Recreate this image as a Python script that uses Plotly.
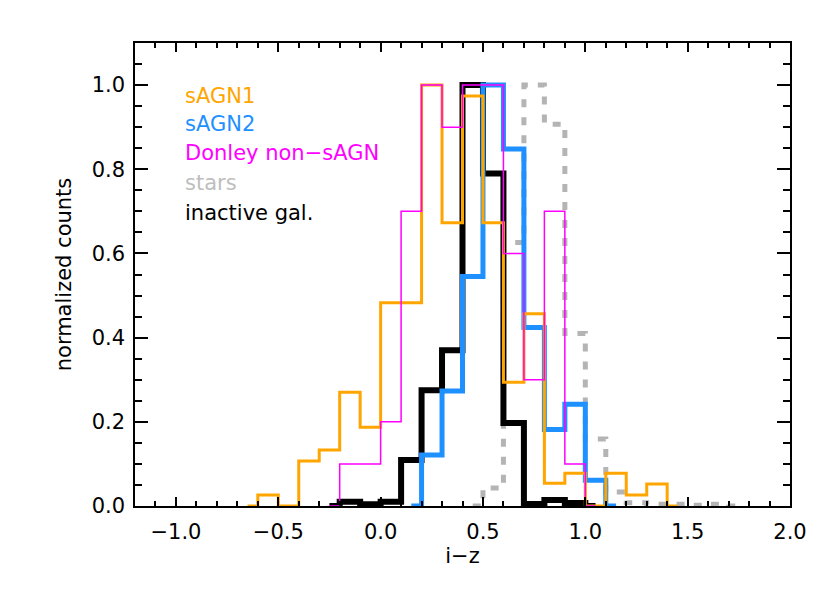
import plotly.graph_objects as go

# bin centres (width 0.1) and normalized counts
sagn1_x = [-0.65, -0.55, -0.45, -0.35, -0.25, -0.15, -0.05, 0.05, 0.15, 0.25, 0.35,
           0.45, 0.55, 0.65, 0.75, 0.85, 0.95, 1.05, 1.15, 1.25, 1.35, 1.45]
sagn1_y = [0, 0.026, 0, 0.107, 0.133, 0.27, 0.187, 0.483, 0.483, 1.0, 0.673,
           0.974, 0.673, 0.294, 0.457, 0.054, 0.078, 0, 0.078, 0.026, 0.052, 0]

sagn2_x = [0.15, 0.25, 0.35, 0.45, 0.55, 0.65, 0.75, 0.85, 0.95, 1.05, 1.15]
sagn2_y = [0, 0.121, 0.273, 0.545, 1.0, 0.848, 0.424, 0.182, 0.242, 0.061, 0]

donley_x = [-0.25, -0.15, -0.05, 0.05, 0.15, 0.25, 0.35, 0.45, 0.55, 0.65, 0.75,
            0.85, 0.95, 1.05]
donley_y = [0, 0.1, 0.1, 0.2, 0.7, 1.0, 0.9, 1.0, 1.0, 0.6, 0.3, 0.7, 0.1, 0]

stars_x = [0.45, 0.55, 0.65, 0.75, 0.85, 0.95, 1.05, 1.15, 1.25, 1.35, 1.45,
           1.55, 1.65, 1.75]
stars_y = [0, 0.043, 0.626, 1.0, 0.907, 0.41, 0.159, 0.033, 0.008, 0.004, 0.004,
           0.002, 0.004, 0]

inactive_x = [-0.25, -0.15, -0.05, 0.05, 0.15, 0.25, 0.35, 0.45, 0.55, 0.65, 0.75,
              0.85, 0.95, 1.05]
inactive_y = [0, 0.01, 0.004, 0.01, 0.109, 0.275, 0.37, 1.0, 0.79, 0.197, 0.005,
              0.014, 0.007, 0]

labels = ['sAGN1', 'sAGN2', 'Donley non\u2212sAGN', 'stars', 'inactive gal.']
label_colors = ['#FFA500', '#1E90FF', '#FF00FF', '#BEBEBE', '#000000']

FONT = 'DejaVu Sans'
FS = 21

fig = go.Figure()

# drawing order: stars, inactive, sAGN2, sAGN1, Donley
fig.add_trace(go.Scatter(x=stars_x, y=stars_y, mode='lines', line_shape='hvh',
                         line=dict(color='#B4B4B4', width=5, dash='8px,10px')))
fig.add_trace(go.Scatter(x=inactive_x, y=inactive_y, mode='lines', line_shape='hvh',
                         line=dict(color='black', width=6)))
fig.add_trace(go.Scatter(x=sagn2_x, y=sagn2_y, mode='lines', line_shape='hvh',
                         line=dict(color='#1E90FF', width=5)))
fig.add_trace(go.Scatter(x=sagn1_x, y=sagn1_y, mode='lines', line_shape='hvh',
                         line=dict(color='#FFA500', width=3)))
fig.add_trace(go.Scatter(x=donley_x, y=donley_y, mode='lines', line_shape='hvh',
                         line=dict(color='#FF00FF', width=1.5)))

# text legend in the upper left
legend_y = [0.974, 0.908, 0.839, 0.768, 0.697]
for txt, col, yy in zip(labels, label_colors, legend_y):
    fig.add_annotation(x=-0.965, y=yy, xref='x', yref='y', text=txt,
                       showarrow=False, xanchor='left', yanchor='middle',
                       font=dict(family=FONT, size=FS, color=col))

axis_common = dict(showline=True, linecolor='black', linewidth=1.5,
                   mirror='allticks', ticks='inside', tickcolor='black',
                   tickwidth=1.5, showgrid=False, zeroline=False,
                   tickfont=dict(family=FONT, size=FS, color='black'),
                   tickformat='.1f')

fig.update_xaxes(range=[-1.2, 2.0], dtick=0.5, tick0=0, ticklen=9,
                 minor=dict(ticks='inside', dtick=0.1, ticklen=5,
                            tickcolor='black', tickwidth=1.5),
                 ticklabelstandoff=6,
                 title=dict(text='i\u2212z', font=dict(family=FONT, size=FS, color='black'),
                            standoff=4),
                 **axis_common)
fig.update_yaxes(range=[0, 1.1], dtick=0.2, tick0=0, ticklen=13,
                 minor=dict(ticks='inside', dtick=0.05, ticklen=7,
                            tickcolor='black', tickwidth=1.5),
                 ticklabelstandoff=4,
                 title=dict(text='normalized counts',
                            font=dict(family=FONT, size=FS, color='black'),
                            standoff=14),
                 **axis_common)

# page body adds an 8px offset, so the margins are shifted to compensate
fig.update_layout(width=830, height=593,
                  margin=dict(l=127, r=48, t=35, b=95),
                  plot_bgcolor='white', paper_bgcolor='white',
                  showlegend=False)

fig.write_html("out.html")
